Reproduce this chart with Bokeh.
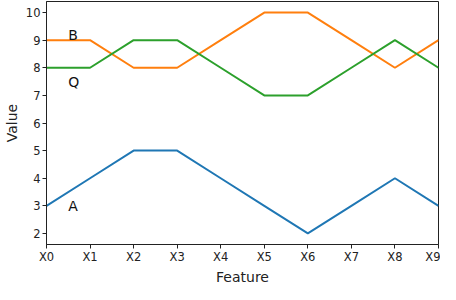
from bokeh.plotting import figure
from bokeh.models import FixedTicker, Range1d, ColumnDataSource, Title
from bokeh.core.properties import value
from bokeh.embed import file_html
from bokeh.resources import INLINE

features = ["X0", "X1", "X2", "X3", "X4", "X5", "X6", "X7", "X8", "X9"]
series_a = [3, 4, 5, 5, 4, 3, 2, 3, 4, 3]
series_b = [9, 9, 8, 8, 9, 10, 10, 9, 8, 9]
series_q = [8, 8, 9, 9, 8, 7, 7, 8, 9, 8]
label_names = ["A", "B", "Q"]
label_x = [0.5, 0.5, 0.5]
label_y = [3.0, 9.2, 7.5]
y_ticks = [2, 3, 4, 5, 6, 7, 8, 9, 10]

xpos = list(range(len(features)))

p = figure(width=440, height=284, output_backend="svg", toolbar_location=None,
           x_range=Range1d(0, 9), y_range=Range1d(1.6, 10.4),
           min_border_left=39, min_border_right=2, min_border_top=1, min_border_bottom=0)

p.line(xpos, series_a, line_color="#1f77b4", line_width=2)
p.line(xpos, series_b, line_color="#ff7f0e", line_width=2)
p.line(xpos, series_q, line_color="#2ca02c", line_width=2)

src = ColumnDataSource(dict(x=label_x, y=label_y, t=label_names))
p.text(x="x", y="y", text="t", source=src, text_font=value("DejaVu Sans"),
       text_font_size="14px", text_color="#111111", text_baseline="alphabetic",
       text_align="left")

p.grid.visible = False
p.outline_line_color = "#222222"
p.outline_line_width = 1
p.background_fill_color = "white"
p.border_fill_color = "white"

p.xaxis.ticker = FixedTicker(ticks=xpos)
p.xaxis.major_label_overrides = {i: f for i, f in enumerate(features)}
p.yaxis.ticker = FixedTicker(ticks=y_ticks)

for ax in (p.xaxis, p.yaxis):
    ax.axis_line_color = "#222222"
    ax.axis_line_width = 1
    ax.major_tick_line_color = "#222222"
    ax.major_tick_in = 0
    ax.major_tick_out = 4
    ax.minor_tick_line_color = None
    ax.major_label_text_font = "DejaVu Sans"
    ax.major_label_text_font_size = "11.5px"
    ax.major_label_text_color = "#222222"
    ax.major_label_standoff = 2
    ax.axis_label_text_font = "DejaVu Sans"
    ax.axis_label_text_font_size = "14px"
    ax.axis_label_text_font_style = "normal"
    ax.axis_label_text_color = "#222222"
    ax.axis_label_standoff = 3

p.xaxis.major_label_standoff = 1
p.yaxis.axis_label = "Value"

xtitle = Title(text="Feature", align="center", text_font="DejaVu Sans",
               text_font_size="14px", text_font_style="normal", text_color="#222222",
               standoff=0, offset=0, text_line_height=1.0)
p.add_layout(xtitle, "below")

open("out.html", "w").write(file_html(p, INLINE))
